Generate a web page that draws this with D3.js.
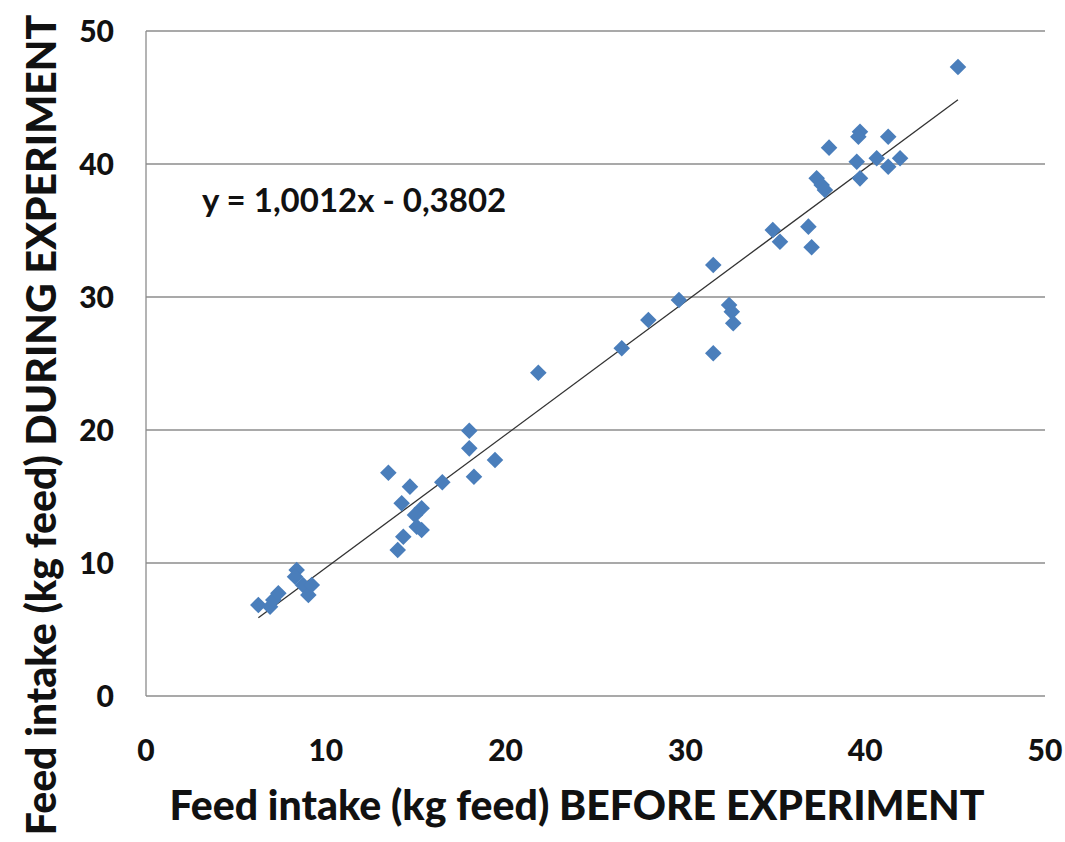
<!DOCTYPE html>
<html>
<head>
<meta charset="utf-8">
<script src="https://cdn.jsdelivr.net/npm/d3@7"></script>
<style>
    body { margin: 0; background: #fff; }
    svg text { font-family: Lato, "DejaVu Sans", sans-serif; fill: #111; }
</style>
</head>
<body>
<div id="chart"></div>
<script>
// feed intake per animal, before vs during experiment (kg feed)
const before = [6.25, 6.90, 7.08, 7.36, 8.38, 8.29, 8.73, 9.03, 9.22,
    13.48, 14.68, 14.22, 15.33, 14.96, 15.06, 15.33, 14.31, 14.00, 16.48,
    17.98, 17.98, 18.24, 19.41, 21.82, 26.46, 27.94, 29.64, 31.55, 31.55,
    32.43, 32.58, 32.66, 34.86, 35.26, 36.84, 37.02, 37.30, 37.58, 37.76,
    37.99, 39.53, 39.71, 39.71, 39.62, 41.28, 40.64, 41.28, 41.94, 45.16];
const during = [6.84, 6.71, 7.22, 7.72, 9.47, 8.97, 8.35, 7.59, 8.35,
    16.79, 15.74, 14.49, 14.11, 13.61, 12.73, 12.48, 11.98, 10.98, 16.07,
    19.95, 18.62, 16.49, 17.74, 24.31, 26.14, 28.27, 29.77, 32.41, 25.77,
    29.40, 28.89, 28.02, 35.04, 34.16, 35.29, 33.74, 38.92, 38.42, 38.05,
    41.23, 40.17, 38.92, 42.43, 42.05, 42.05, 40.43, 39.80, 40.43, 47.29];
const xTicks = [0, 10, 20, 30, 40, 50];
const yTicks = [0, 10, 20, 30, 40, 50];
const slope = 1.0012, intercept = -0.3802;
const equation = 'y = 1,0012x - 0,3802';
const xTitle = 'Feed intake (kg feed) BEFORE EXPERIMENT';
const yTitle = 'Feed intake (kg feed) DURING EXPERIMENT';

const width = 1065, height = 842;
const svg = d3.select('#chart').append('svg')
    .attr('width', width)
    .attr('height', height);

const x = d3.scaleLinear().domain([0, 50]).range([146, 1045]);
const y = d3.scaleLinear().domain([0, 50]).range([696, 31]);

// gridlines
svg.append('g')
    .selectAll('line')
    .data(yTicks.filter(d => d > 0))
    .join('line')
    .attr('x1', x(0)).attr('x2', x(50))
    .attr('y1', d => y(d)).attr('y2', d => y(d))
    .attr('stroke', '#8c8c8c')
    .attr('stroke-width', 1.3);

// axes lines (left + bottom)
svg.append('line')
    .attr('x1', x(0)).attr('x2', x(0))
    .attr('y1', y(0)).attr('y2', y(50))
    .attr('stroke', '#8c8c8c').attr('stroke-width', 1.3);
svg.append('line')
    .attr('x1', x(0)).attr('x2', x(50))
    .attr('y1', y(0)).attr('y2', y(0))
    .attr('stroke', '#8c8c8c').attr('stroke-width', 1.3);

// tick labels
svg.append('g')
    .selectAll('text')
    .data(yTicks)
    .join('text')
    .attr('x', 114)
    .attr('y', d => y(d))
    .attr('dy', '0.35em')
    .attr('text-anchor', 'end')
    .style('font-size', '30px')
    .style('font-weight', 900)
    .text(d => d);

svg.append('g')
    .selectAll('text')
    .data(xTicks)
    .join('text')
    .attr('x', d => x(d))
    .attr('y', 750)
    .attr('dy', '0.35em')
    .attr('text-anchor', 'middle')
    .style('font-size', '30px')
    .style('font-weight', 900)
    .text(d => d);

// trendline over data range
const xr = d3.extent(before);
svg.append('line')
    .attr('x1', x(xr[0])).attr('y1', y(slope * xr[0] + intercept))
    .attr('x2', x(xr[1])).attr('y2', y(slope * xr[1] + intercept))
    .attr('stroke', '#333')
    .attr('stroke-width', 1.3);

// points
const pts = before.map((b, i) => ({ b: b, d: during[i] }));
svg.append('g')
    .selectAll('path')
    .data(pts)
    .join('path')
    .attr('d', d3.symbol().type(d3.symbolDiamond2).size(175))
    .attr('transform', d => `translate(${x(d.b)},${y(d.d)})`)
    .attr('fill', '#4a7ebb');

// equation
svg.append('text')
    .attr('x', 202)
    .attr('y', 200)
    .attr('dy', '0.35em')
    .style('font-size', '33px')
    .style('font-weight', 700)
    .text(equation);

// axis titles
svg.append('text')
    .attr('x', 577)
    .attr('y', 806)
    .attr('dy', '0.35em')
    .attr('text-anchor', 'middle')
    .style('font-size', '41px')
    .style('font-weight', 900)
    .text(xTitle);

svg.append('text')
    .attr('transform', 'translate(42,425) rotate(-90)')
    .attr('dy', '0.35em')
    .attr('text-anchor', 'middle')
    .style('font-size', '41px')
    .style('font-weight', 900)
    .text(yTitle);
</script>
</body>
</html>
